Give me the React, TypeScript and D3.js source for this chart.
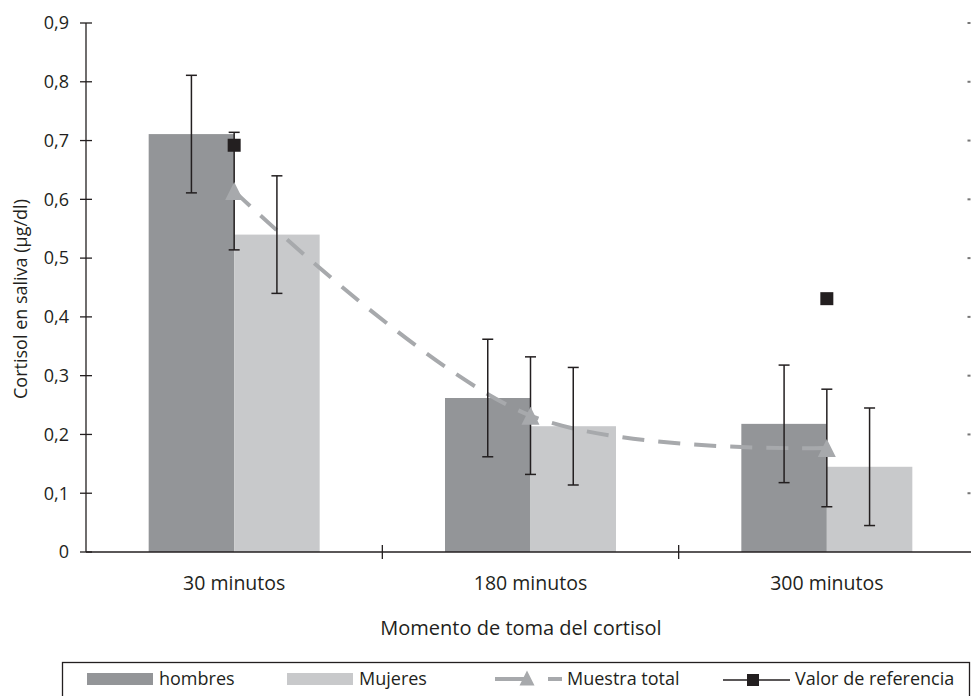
import React from 'react';
import * as d3 from 'd3';

const categories = ['30 minutos', '180 minutos', '300 minutos'];
const hombres = [0.711, 0.262, 0.218];
const hombresErr = [0.1, 0.1, 0.1];
const mujeres = [0.54, 0.214, 0.145];
const mujeresErr = [0.1, 0.1, 0.1];
const muestraTotal = [0.614, 0.232, 0.177];
const muestraErr = [0.1, 0.1, 0.1];
const referencia: (number | null)[] = [0.692, null, 0.431];
const yTicks = [0, 0.1, 0.2, 0.3, 0.4, 0.5, 0.6, 0.7, 0.8, 0.9];

const W = 971;
const H = 696;
const DARK = '#939598';
const LIGHT = '#c8c9cb';
const LINE = '#a7a9ac';
const INK = '#231f20';
const FONT = '"Open Sans", "Noto Sans", sans-serif';

const x = d3.scaleBand<string>().domain(categories).range([86, 975]).padding(0);
const y = d3.scaleLinear().domain([0, 0.9]).range([552, 23]);
const barW = x.bandwidth() * 0.2885;
const cx = (c: string) => (x(c) as number) + x.bandwidth() / 2;

const fmt = (v: number) => (v === 0 ? '0' : d3.format('.1f')(v).replace('.', ','));

const lineGen = d3
  .line<number>()
  .x((_, i) => cx(categories[i]))
  .y(d => y(d))
  .curve(d3.curveCatmullRom.alpha(0.5));

const ErrBar = ({ xc, v, e }: { xc: number; v: number; e: number }) => (
  <g stroke={INK} strokeWidth={1.5}>
    <line x1={xc} x2={xc} y1={y(v + e)} y2={y(v - e)} />
    <line x1={xc - 5.5} x2={xc + 5.5} y1={y(v + e)} y2={y(v + e)} />
    <line x1={xc - 5.5} x2={xc + 5.5} y1={y(v - e)} y2={y(v - e)} />
  </g>
);

const tri = (xc: number, yc: number, s = 18) =>
  `M${xc},${yc - s / 2} L${xc + s / 2},${yc + s / 2} L${xc - s / 2},${yc + s / 2} Z`;

export default function App() {
  return (
    <svg
      width={W}
      height={H}
      style={{ position: 'absolute', left: 0, top: 0, background: '#fff' }}
      fontFamily={FONT}
    >
      {/* bars */}
      {categories.map((c, i) => (
        <g key={c}>
          <rect x={cx(c) - barW} y={y(hombres[i])} width={barW} height={y(0) - y(hombres[i])} fill={DARK} />
          <rect x={cx(c)} y={y(mujeres[i])} width={barW} height={y(0) - y(mujeres[i])} fill={LIGHT} />
        </g>
      ))}

      {/* muestra total line */}
      <path
        d={lineGen(muestraTotal) || ''}
        fill="none"
        stroke={LINE}
        strokeWidth={4}
        strokeDasharray="22,14"
      />

      {/* error bars */}
      {categories.map((c, i) => (
        <g key={c + 'err'}>
          <ErrBar xc={cx(c) - barW / 2} v={hombres[i]} e={hombresErr[i]} />
          <ErrBar xc={cx(c) + barW / 2} v={mujeres[i]} e={mujeresErr[i]} />
          <ErrBar xc={cx(c)} v={muestraTotal[i]} e={muestraErr[i]} />
        </g>
      ))}

      {/* markers */}
      {categories.map((c, i) => (
        <path key={c + 'tri'} d={tri(cx(c), y(muestraTotal[i]))} fill={LINE} />
      ))}
      {categories.map((c, i) =>
        referencia[i] == null ? null : (
          <rect
            key={c + 'ref'}
            x={cx(c) - 6.5}
            y={y(referencia[i] as number) - 6.5}
            width={13}
            height={13}
            fill={INK}
          />
        )
      )}

      {/* y axis */}
      <line x1={86} x2={86} y1={y(0.9)} y2={y(0)} stroke={INK} strokeWidth={1.3} />
      {yTicks.map(t => (
        <g key={t}>
          <line x1={80} x2={92} y1={y(t)} y2={y(t)} stroke={INK} strokeWidth={1.3} />
          <text x={69} y={y(t)} dy="0.35em" textAnchor="end" fontSize={18} fill={INK}>
            {fmt(t)}
          </text>
          {t > 0 && <rect x={967.5} y={y(t) - 1} width={3} height={2} fill="#777" />}
        </g>
      ))}

      {/* x axis */}
      <line x1={86} x2={W} y1={y(0)} y2={y(0)} stroke={INK} strokeWidth={1.5} />
      {categories.slice(1).map(c => (
        <line key={c + 't'} x1={x(c)} x2={x(c)} y1={y(0) - 7} y2={y(0) + 7} stroke={INK} strokeWidth={1.3} />
      ))}
      {categories.map(c => (
        <text key={c + 'l'} x={cx(c)} y={590} textAnchor="middle" fontSize={19.5} fill={INK}>
          {c}
        </text>
      ))}

      {/* axis titles */}
      <text x={521} y={635} textAnchor="middle" fontSize={20} fill={INK}>
        Momento de toma del cortisol
      </text>
      <text
        transform={`translate(27,${299}) rotate(-90)`}
        textAnchor="middle"
        fontSize={18}
        fill={INK}
      >
        Cortisol en saliva (µg/dl)
      </text>

      {/* legend */}
      <rect x={62.5} y={662.5} width={907} height={40} fill="none" stroke={INK} strokeWidth={1.3} />
      <rect x={87} y={673} width={66} height={12} fill={DARK} />
      <text x={159} y={685} fontSize={18} fill={INK}>hombres</text>
      <rect x={287} y={673} width={66} height={12} fill={LIGHT} />
      <text x={359} y={685} fontSize={18} fill={INK}>Mujeres</text>
      <line x1={495} x2={524} y1={679} y2={679} stroke={LINE} strokeWidth={4} />
      <path d={tri(527, 678, 15)} fill={LINE} />
      <line x1={548} x2={562} y1={679} y2={679} stroke={LINE} strokeWidth={4} />
      <text x={567} y={685} fontSize={18} fill={INK}>Muestra total</text>
      <line x1={723} x2={790} y1={680} y2={680} stroke={INK} strokeWidth={1.5} />
      <rect x={747} y={674} width={12} height={12} fill={INK} />
      <text x={795} y={685} fontSize={18} fill={INK}>Valor de referencia</text>
    </svg>
  );
}
